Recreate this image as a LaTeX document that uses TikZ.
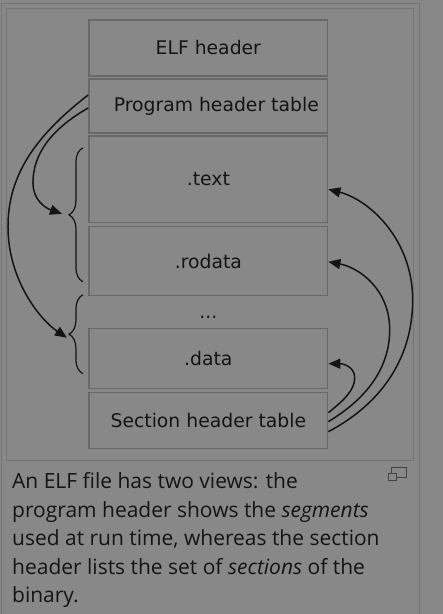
\documentclass[tikz,border=0pt]{standalone}
\usepackage{fontspec}
\setmainfont{Open Sans}
\newfontfamily\dejavu{DejaVu Sans}
\usetikzlibrary{
  arrows.meta,
  decorations.pathreplacing
}
\definecolor{pagegray}{RGB}{136,136,136}
\definecolor{framegray}{RGB}{116,116,116}
\definecolor{boxline}{RGB}{104,104,104}
\definecolor{inkgray}{RGB}{20,20,20}

\begin{document}
\begin{tikzpicture}[x=1pt, y=-1pt,
  part/.style={
    draw=boxline, line width=1.3pt, fill=pagegray,
    minimum width=239pt, inner sep=0pt,
    font=\dejavu\fontsize{18.8}{22}\selectfont, text=inkgray
  },
  link/.style={-{Triangle[length=12pt, width=10pt]}, line width=1.5pt, inkgray},
  brc/.style={decorate, decoration={brace, amplitude=14pt}, line width=1.2pt, inkgray},
]

% page and frames
\fill[pagegray] (0,0) rectangle (443,614);
\draw[framegray, line width=1pt] (2,614) -- (2,4) -- (420,4) -- (420,614);
\draw[framegray, line width=1pt] (7,9) rectangle (414,461);

% file layout
\node[part, minimum height=56pt] (elf)  at (208.5,48)    {ELF header};
\node[part, minimum height=54pt,
      label={[xshift=8pt, font=\dejavu\fontsize{18.8}{22}\selectfont, text=inkgray]center:Program header table}]
      (pht)  at (208.5,106)   {};
\node[part, minimum height=87pt] (text) at (208.5,179.5) {.text};
\node[part, minimum height=69pt] (rodata) at (208.5,261.5) {.rodata};
\node[font=\dejavu\fontsize{18.8}{22}\selectfont, text=inkgray] (dots) at (208.5,318) {...};
\node[part, minimum height=60pt] (data) at (208.5,359)   {.data};
\node[part, minimum height=56pt] (sht)  at (208.5,421)   {Section header table};

% segments
\draw[brc] (83,282) -- (83,148);
\draw[brc] (83,374) -- (83,295);
\coordinate (seg1) at (62,214);
\coordinate (seg2) at (67,338);
\draw[link] ([yshift=-2pt]pht.west) .. controls (50,130) and (33,155) .. (33,183)
  .. controls (33,200) and (45,208) .. (seg1);
\draw[link] ([yshift=11pt]pht.west) .. controls (30,140) and (8,180) .. (8,227)
  .. controls (8,280) and (40,320) .. (seg2);

% sections
\draw[link] ([yshift=-11pt]sht.east) .. controls (380,405) and (413,360) .. (413,300)
  .. controls (413,240) and (370,200) .. ([yshift=-10pt]text.east);
\draw[link] ([yshift=-1pt]sht.east) .. controls (365,400) and (390,370) .. (390,330)
  .. controls (390,290) and (360,268) .. ([yshift=-0.5pt]rodata.east);
\draw[link] ([yshift=8pt]sht.east) .. controls (345,400) and (355,390) .. (355,378)
  .. controls (355,368) and (345,364) .. ([yshift=-5pt]data.east);

% caption
\node[anchor=base west, align=left, inner sep=0pt, text=inkgray,
      font=\fontsize{21}{28.5}\selectfont] (caption) at (12,603)
  {An ELF file has two views: the\\
   program header shows the \textit{segments}\\
   used at run time, whereas the section\\
   header lists the set of \textit{sections} of the\\
   binary.};
\draw[inkgray!80, line width=1pt] (392,468) rectangle (407,478);
\draw[inkgray!80, line width=1pt, fill=pagegray] (389,474) rectangle (397,481);

\end{tikzpicture}
\end{document}
